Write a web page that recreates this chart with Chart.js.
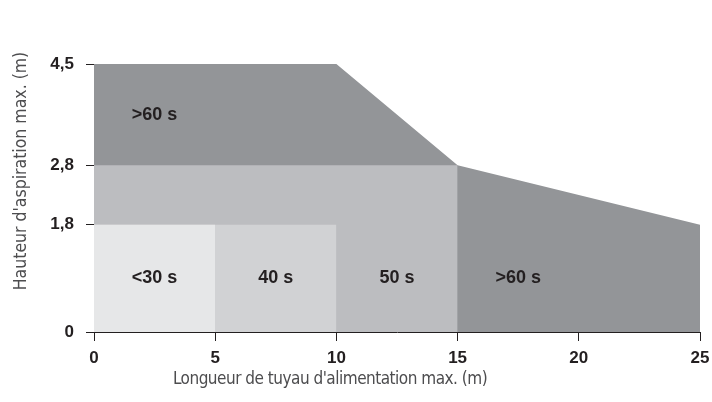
<!DOCTYPE html>
<html>
<head>
<meta charset="utf-8">
<script src="https://cdn.jsdelivr.net/npm/chart.js@4/dist/chart.umd.min.js"></script>
<style>
  html, body { margin: 0; padding: 0; background: #ffffff; }
  #wrap { width: 712px; height: 402px; }
</style>
</head>
<body>
<div id="wrap"><canvas id="chart" width="712" height="402"></canvas></div>
<script>
// Boundary of the ">60 s" zone (upper limit of the whole operating range)
const limitLength = [0, 10, 15, 25];
const limitHeight = [4.5, 4.5, 2.8, 1.8];
// "50 s" zone: up to 15 m hose and 2.8 m suction height
const zone50Length = [0, 15];
const zone50Height = [2.8, 2.8];
// "40 s" zone: up to 10 m hose and 1.8 m suction height
const zone40Length = [0, 10];
const zone40Height = [1.8, 1.8];
// "<30 s" zone: up to 5 m hose and 1.8 m suction height
const zone30Length = [0, 5];
const zone30Height = [1.8, 1.8];

// Region labels and where they sit (in axis units)
const regionLabels = ['>60 s', '<30 s', '40 s', '50 s', '>60 s'];
const regionLabelX = [2.5, 2.5, 7.5, 12.5, 17.5];
const regionLabelY = [3.65, 0.9, 0.9, 0.9, 0.9];

// Axis ticks and titles
const xTicks = [0, 5, 10, 15, 20, 25];
const yTicks = [0, 1.8, 2.8, 4.5];
const xTitle = "Longueur de tuyau d'alimentation max. (m)";
const yTitle = "Hauteur d'aspiration max. (m)";

const toPoints = (xs, ys) => xs.map((x, i) => ({ x: x, y: ys[i] }));

const zoneDataset = (xs, ys, color, order) => ({
  data: toPoints(xs, ys),
  backgroundColor: color,
  borderColor: color,
  borderWidth: 0,
  pointRadius: 0,
  fill: 'origin',
  tension: 0,
  order: order
});

const TITLE_FAMILY = '"Liberation Sans Narrow", "DejaVu Sans Condensed", sans-serif';

// Zone labels plus the two axis titles (set off-centre towards the origin)
const annotationPlugin = {
  id: 'zoneAnnotations',
  afterDatasetsDraw(chart) {
    const { ctx, scales, chartArea } = chart;
    ctx.save();
    ctx.font = 'bold 18px "Liberation Sans", Arial, sans-serif';
    ctx.fillStyle = '#231f20';
    ctx.textAlign = 'center';
    ctx.textBaseline = 'middle';
    regionLabels.forEach((t, i) => {
      ctx.fillText(t, scales.x.getPixelForValue(regionLabelX[i]), scales.y.getPixelForValue(regionLabelY[i]));
    });

    ctx.fillStyle = '#4d4d4f';
    ctx.font = '17px ' + TITLE_FAMILY;
    ctx.letterSpacing = '-0.5px';
    ctx.fillText(xTitle, chartArea.left + 236, chartArea.bottom + 48);

    ctx.letterSpacing = '0px';
    ctx.font = '17.5px ' + TITLE_FAMILY;
    ctx.translate(21, chartArea.top + 107);
    ctx.rotate(-Math.PI / 2);
    ctx.fillText(yTitle, 0, 0);
    ctx.restore();
  }
};

const fmt = v => String(v).replace('.', ',');

new Chart(document.getElementById('chart'), {
  type: 'line',
  data: {
    datasets: [
      zoneDataset(zone30Length, zone30Height, '#e6e7e8', 1),
      zoneDataset(zone40Length, zone40Height, '#d1d2d4', 2),
      zoneDataset(zone50Length, zone50Height, '#bcbdc0', 3),
      zoneDataset(limitLength, limitHeight, '#939598', 4)
    ]
  },
  options: {
    responsive: false,
    animation: false,
    layout: { padding: { left: 0, right: 12, top: 64, bottom: 0 } },
    plugins: {
      legend: { display: false },
      tooltip: { enabled: false }
    },
    scales: {
      x: {
        type: 'linear',
        min: 0,
        max: 25,
        afterBuildTicks: s => { s.ticks = xTicks.map(v => ({ value: v })); },
        afterFit: s => { s.height = 70; s.paddingLeft = 0; s.paddingRight = 0; },
        border: { display: true, color: '#231f20', width: 1 },
        grid: { display: true, drawOnChartArea: false, drawTicks: true, tickLength: 9, color: '#231f20' },
        ticks: {
          color: '#231f20',
          font: { family: '"Liberation Sans", Arial, sans-serif', size: 17, weight: 'bold' },
          padding: 7,
          maxRotation: 0,
          callback: v => fmt(v)
        },
        title: { display: false }
      },
      y: {
        type: 'linear',
        min: 0,
        max: 4.5,
        afterBuildTicks: s => { s.ticks = yTicks.map(v => ({ value: v })); },
        afterFit: s => { s.width = 94; s.paddingTop = 0; s.paddingBottom = 0; },
        border: { display: true, color: '#231f20', width: 1 },
        grid: { display: true, drawOnChartArea: false, drawTicks: true, tickLength: 8, color: '#231f20' },
        ticks: {
          color: '#231f20',
          font: { family: '"Liberation Sans", Arial, sans-serif', size: 17, weight: 'bold' },
          padding: 12,
          callback: v => fmt(v)
        },
        title: { display: false }
      }
    }
  },
  plugins: [annotationPlugin]
});
</script>
</body>
</html>
